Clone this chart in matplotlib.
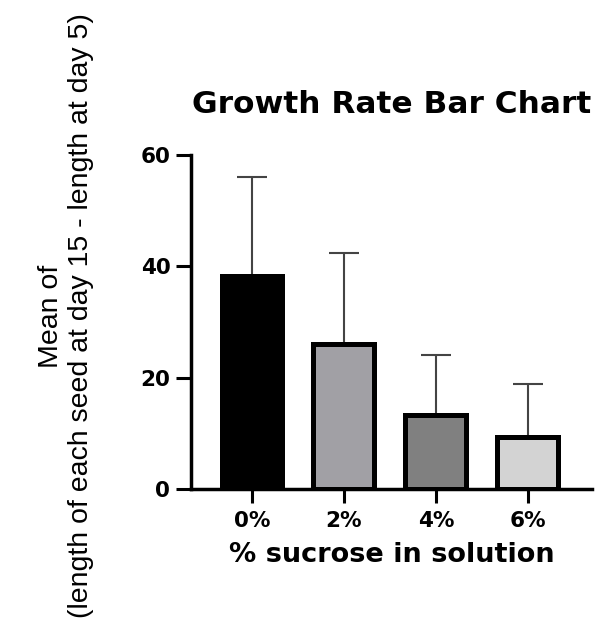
import numpy as np
import matplotlib.pyplot as plt

# 数据：各蔗糖浓度下的平均生长量及标准差（只画上半部分误差线）
categories = ['0%', '2%', '4%', '6%']
means = [38.2, 26.0, 13.2, 9.3]
sd = [17.8, 16.4, 10.9, 9.6]
bar_colors = ['#000000', '#A1A0A5', '#808080', '#D3D3D3']

plt.rcParams['font.family'] = ['DejaVu Sans']

fig = plt.figure(figsize=(6.03, 6.32), dpi=100)
ax = fig.add_axes([0.317, 0.2263, 0.665, 0.5285])

x = np.arange(len(categories))
ax.bar(x, means, width=0.66, color=bar_colors, edgecolor='black', linewidth=3.6, zorder=3)
ax.errorbar(x, means, yerr=[np.zeros(len(sd)), sd], fmt='none', ecolor='#444444',
            elinewidth=1.5, capsize=11, capthick=1.5, zorder=2)

ax.set_xlim(-0.66, 3.70)
ax.set_ylim(0, 60)
ax.set_yticks([0, 20, 40, 60])
ax.set_xticks(x)
ax.set_xticklabels(categories)

for s in ['top', 'right']:
    ax.spines[s].set_visible(False)
for s in ['left', 'bottom']:
    ax.spines[s].set_linewidth(2.5)

ax.tick_params(axis='y', length=11, width=2.2, labelsize=15.5, pad=4)
ax.tick_params(axis='x', length=10, width=2.2, labelsize=15.5, pad=6)
for lab in ax.get_xticklabels() + ax.get_yticklabels():
    lab.set_fontweight('bold')

ax.set_xlabel('% sucrose in solution', fontsize=19.5, fontweight='bold', labelpad=8)
ax.set_title('Growth Rate Bar Chart', fontsize=22.5, fontweight='bold', pad=30)

fig.text(66 / 603, 1 - 316 / 632,
         'Mean of\n(length of each seed at day 15 - length at day 5)',
         rotation=90, ha='center', va='center', multialignment='center',
         family=['Liberation Sans', 'DejaVu Sans'], fontsize=20.5, linespacing=1.2)

plt.savefig('out.png', dpi=100)
